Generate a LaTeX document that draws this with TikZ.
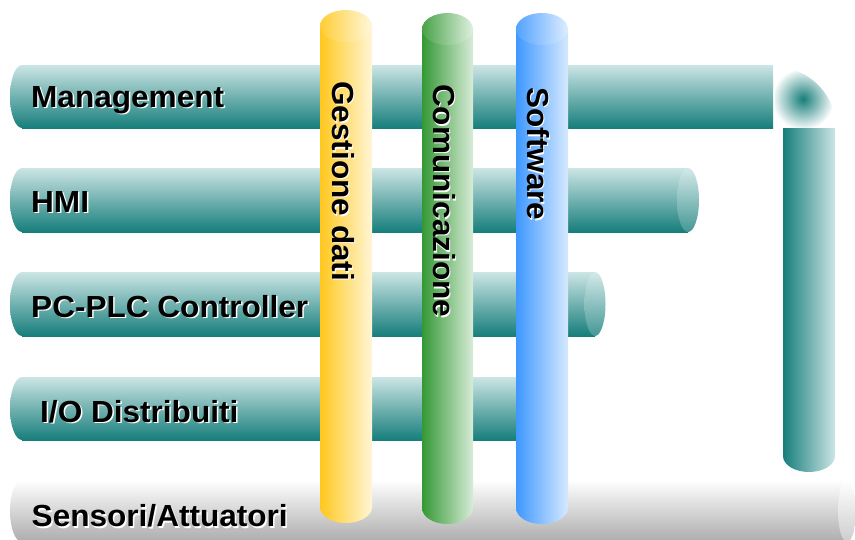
\documentclass[tikz,border=0pt]{standalone}
\usepackage{fontspec}
\setmainfont{Liberation Sans}[FakeStretch=1.035]
\definecolor{tealD}{RGB}{22,126,123}
\definecolor{tealL}{RGB}{204,229,229}
\definecolor{grayD}{RGB}{172,172,172}
\definecolor{yelD}{RGB}{255,200,30}
\definecolor{yelL}{RGB}{255,246,214}
\definecolor{grnD}{RGB}{52,152,52}
\definecolor{grnL}{RGB}{216,236,216}
\definecolor{bluD}{RGB}{62,152,255}
\definecolor{bluL}{RGB}{214,233,255}
\tikzset{
  tealbody/.style={top color=tealL, bottom color=tealD},
  tealface/.style={top color=tealL!85!white, bottom color=tealD!75!tealL},
  lbl/.style={inner sep=0pt, font=\fontsize{30.5}{36}\selectfont\bfseries},
  lblsh/.style={lbl, text=white},
}
\begin{document}
\begin{tikzpicture}[x=1pt,y=-1pt]
\useasboundingbox (0,0) rectangle (855,539);

% field level: grey bar at the bottom
\begin{scope}
  \clip (0,0) rectangle (855,539);
  \shade[top color=white, bottom color=grayD] (22,511) ellipse [x radius=12, y radius=31];
  \shade[top color=white, bottom color=grayD] (22,480) rectangle (847,542);
  \shade[top color=white, bottom color=grayD!60!white] (847,511) ellipse [x radius=9, y radius=31];
\end{scope}

% Management bar (open end towards the elbow)
\shade[tealbody] (22,96.5) ellipse [x radius=12, y radius=31.5];
\shade[tealbody] (22,65) rectangle (773,128);

% HMI bar
\shade[tealbody] (22,200) ellipse [x radius=12, y radius=32];
\shade[tealbody] (22,168) rectangle (688,232);
\shade[tealface] (688,200) ellipse [x radius=11, y radius=32];

% PC-PLC bar
\shade[tealbody] (22,304) ellipse [x radius=12, y radius=32];
\shade[tealbody] (22,272) rectangle (595,336);
\shade[tealface] (595,304) ellipse [x radius=10.5, y radius=32];

% I/O bar (ends behind the software column)
\shade[tealbody] (22,408.5) ellipse [x radius=12, y radius=31.5];
\shade[tealbody] (22,377) rectangle (540,440);

% elbow: soft quarter bend between the top bar and the return pipe
\begin{scope}
  \clip (775,128) -- (775,67) arc [start angle=-90, end angle=0, radius=61] -- cycle;
  \shade[inner color=tealD, outer color=white] (803,99) circle [radius=31];
\end{scope}

% vertical return pipe on the right
\shade[left color=tealD, right color=tealL] (809,456) ellipse [x radius=26, y radius=16];
\shade[left color=tealD, right color=tealL] (783,128) rectangle (835,456);

% vertical columns
\shade[left color=yelD, right color=yelL] (346,507) ellipse [x radius=26, y radius=16];
\shade[left color=yelD, right color=yelL] (320,26) rectangle (372,507);
\shade[left color=yelD!90!white, right color=yelL!80!white] (346,26) ellipse [x radius=26, y radius=16];

\shade[left color=grnD, right color=grnL] (447.5,508) ellipse [x radius=25.5, y radius=16];
\shade[left color=grnD, right color=grnL] (422,29) rectangle (473,508);
\shade[left color=grnD!90!white, right color=grnL!80!white] (447.5,29) ellipse [x radius=25.5, y radius=16];

\shade[left color=bluD, right color=bluL] (542,508) ellipse [x radius=26, y radius=16];
\shade[left color=bluD, right color=bluL] (516,29) rectangle (568,508);
\shade[left color=bluD!90!white, right color=bluL!80!white] (542,29) ellipse [x radius=26, y radius=16];

% layer labels (white shadow under black text)
\node[lblsh, anchor=base west] (mgmt-sh) at (32.5,108.8) {Management};
\node[lbl,   anchor=base west] (mgmt)    at (31,107.3)   {Management};
\node[lblsh, anchor=base west] (hmi-sh)  at (32.5,213.8) {HMI};
\node[lbl,   anchor=base west] (hmi)     at (31,212.3)   {HMI};
\node[lblsh, anchor=base west] (plc-sh)  at (32.5,318.8) {PC-PLC Controller};
\node[lbl,   anchor=base west] (plc)     at (31,317.3)   {PC-PLC Controller};
\node[lblsh, anchor=base west] (io-sh)   at (41.5,423.8) {I/O Distribuiti};
\node[lbl,   anchor=base west] (io)      at (40,422.3)   {I/O Distribuiti};
\node[lblsh, anchor=base west] (sens-sh) at (33,528.2)   {Sensori/Attuatori};
\node[lbl,   anchor=base west] (sens)    at (31.5,526.7) {Sensori/Attuatori};

% column labels, running downwards
\node[lblsh, rotate=-90, anchor=base west] (dati-sh) at (333.5,82.5) {Gestione dati};
\node[lbl,   rotate=-90, anchor=base west] (dati)    at (332,81)     {Gestione dati};
\node[lblsh, rotate=-90, anchor=base west] (com-sh)  at (434.5,85.5) {Comunicazione};
\node[lbl,   rotate=-90, anchor=base west] (com)     at (433,84)     {Comunicazione};
\node[lblsh, rotate=-90, anchor=base west] (sw-sh)   at (528.5,88.5) {Software};
\node[lbl,   rotate=-90, anchor=base west] (sw)      at (527,87)     {Software};
\end{tikzpicture}
\end{document}
